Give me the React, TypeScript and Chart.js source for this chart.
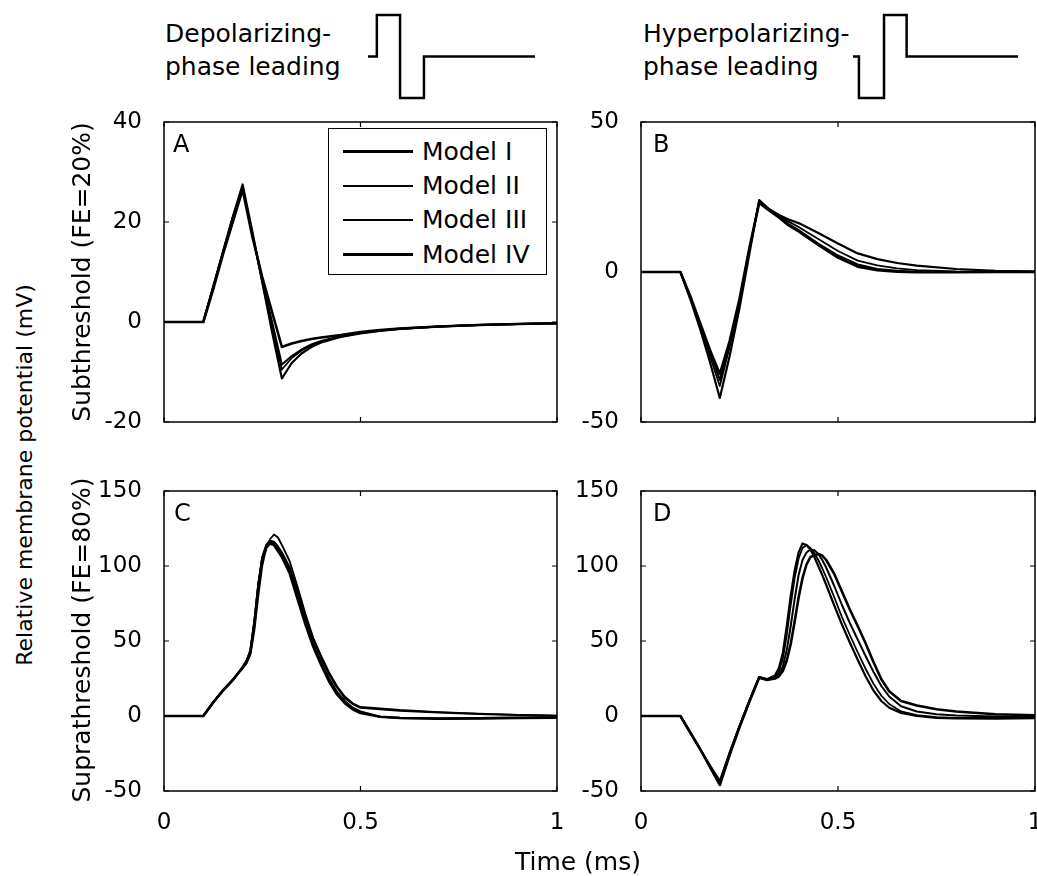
import React, { useEffect, useRef } from "react";
import { Chart, registerables } from "chart.js";

Chart.register(...registerables);

const FONT = "'DejaVu Sans', 'Liberation Sans', sans-serif";

const MODELS = ["Model I", "Model II", "Model III", "Model IV"];
const LINE_WIDTHS = [2.2, 1.8, 2, 2.6];

const X_TICKS = [0, 0.5, 1];
const Y_TICKS_A = [-20, 0, 20, 40];
const Y_TICKS_B = [-50, 0, 50];
const Y_TICKS_CD = [-50, 0, 50, 100, 150];

// Panel A: subthreshold, depolarizing-phase leading
const TIME_A = [0, 0.1, 0.125, 0.15, 0.175, 0.2, 0.225, 0.25, 0.275, 0.3, 0.325, 0.35, 0.375, 0.4, 0.45, 0.5, 0.55, 0.6, 0.7, 0.8, 0.9, 1.0];
const A_I = [0, 0, 7, 14, 21, 27.5, 18, 8, -2, -11.3, -8.2, -6.3, -5, -4.1, -3, -2.3, -1.8, -1.4, -0.9, -0.6, -0.4, -0.25];
const A_II = [0, 0, 7, 14, 20.5, 27, 17.5, 8, -1, -9.5, -7.2, -5.7, -4.7, -3.9, -2.9, -2.2, -1.7, -1.4, -0.9, -0.6, -0.4, -0.25];
const A_III = [0, 0, 7, 14, 21, 27, 17.5, 8.5, 0, -8.5, -6.8, -5.5, -4.5, -3.8, -2.8, -2.2, -1.7, -1.3, -0.9, -0.6, -0.4, -0.25];
const A_IV = [0, 0, 6.5, 13.5, 20, 26.5, 17, 9, 2, -5, -4.3, -3.8, -3.4, -3.1, -2.6, -2, -1.6, -1.3, -0.9, -0.6, -0.4, -0.25];

// Panel B: subthreshold, hyperpolarizing-phase leading
const TIME_B = [0, 0.1, 0.125, 0.15, 0.175, 0.2, 0.225, 0.25, 0.275, 0.3, 0.325, 0.35, 0.375, 0.4, 0.45, 0.5, 0.55, 0.6, 0.65, 0.7, 0.8, 0.9, 1.0];
const B_I = [0, 0, -9, -19, -30, -42, -28, -12, 6, 24, 21, 19, 17.5, 16.3, 13, 9.5, 6.2, 4.3, 3, 2.1, 1, 0.4, 0.2];
const B_II = [0, 0, -8.5, -18, -28, -38, -25, -10, 7, 23.5, 20.8, 18.7, 16.8, 15, 11, 7, 3.8, 2.2, 1.2, 0.6, 0.2, 0.1, 0];
const B_III = [0, 0, -8.5, -17.5, -27, -36, -24, -9.5, 7.5, 23.5, 20.8, 18.4, 16, 14, 9.5, 5.5, 2.5, 1, 0.4, 0.1, 0, 0, 0];
const B_IV = [0, 0, -8, -17, -26, -34, -23, -9, 8, 23, 20.5, 18.2, 15.5, 13.5, 9, 4.8, 1.8, 0.6, 0.1, -0.1, -0.1, 0, 0];

// Panel C: suprathreshold, depolarizing-phase leading
const TIME_C = [0, 0.1, 0.125, 0.15, 0.175, 0.19, 0.2, 0.21, 0.22, 0.23, 0.24, 0.25, 0.26, 0.27, 0.28, 0.29, 0.3, 0.32, 0.34, 0.36, 0.38, 0.4, 0.42, 0.44, 0.46, 0.48, 0.5, 0.55, 0.6, 0.7, 0.8, 0.9, 1.0];
const C_I = [0, 0, 9, 17, 24, 29, 32, 36, 43, 62, 87, 105, 113, 116, 115, 112, 108, 97, 80, 63, 48, 36, 25, 16, 10, 5.5, 3, -0.5, -1.2, -1.6, -1.4, -1.1, -0.9];
const C_II = [0, 0, 9, 17, 24, 29, 32, 35, 41, 57, 80, 100, 112, 118, 121, 119, 114, 103, 86, 68, 52, 40, 29, 20, 13, 8.5, 6, 5, 4, 2.6, 1.6, 0.8, 0.3];
const C_III = [0, 0, 9, 17, 24, 29, 33, 37, 44, 63, 88, 106, 114, 117, 116, 113, 109, 99, 83, 66, 51, 39, 28, 19, 12, 8, 5.5, 4.5, 3.5, 2.3, 1.4, 0.7, 0.2];
const C_IV = [0, 0, 9, 17, 24, 29, 32, 36, 43, 62, 86, 104, 112, 115, 114, 110, 106, 95, 78, 61, 46, 34, 23, 14.5, 8.5, 4.5, 2, -0.5, -1.3, -1.8, -1.6, -1.3, -1.1];

// Panel D: suprathreshold, hyperpolarizing-phase leading
const TIME_D = [0, 0.1, 0.125, 0.15, 0.175, 0.2, 0.225, 0.25, 0.275, 0.3, 0.32, 0.34, 0.35, 0.36, 0.37, 0.38, 0.39, 0.4, 0.41, 0.42, 0.43, 0.44, 0.45, 0.46, 0.47, 0.49, 0.51, 0.53, 0.55, 0.57, 0.59, 0.61, 0.63, 0.66, 0.7, 0.75, 0.8, 0.9, 1.0];
const D_I = [0, 0, -11, -22, -33, -44, -25, -7, 10, 26, 24.5, 27, 32, 42, 60, 80, 97, 109, 115, 114, 111, 106, 100, 94, 87.5, 74, 61, 49, 37.5, 26.5, 17, 10, 5.5, 2, 0, -1.2, -1.6, -1.8, -1.5];
const D_II = [0, 0, -11, -22, -33, -43, -24, -6.5, 10, 26, 24.5, 26.5, 30, 38, 54, 74, 92, 105, 112, 114, 112, 108.5, 104, 98.5, 92.5, 79.5, 66, 54, 42.5, 31.5, 21.5, 13.5, 8, 3, 0.5, -0.8, -1.2, -1.3, -1.2];
const D_III = [0, 0, -11, -22, -34, -45, -25, -7, 10, 26, 24.5, 25.5, 28, 33, 44, 60, 78, 94, 104, 109, 111, 110.5, 108, 104, 99, 87, 74, 62, 51, 40, 29.5, 20, 13, 6.5, 3, 1.2, 0.4, -0.3, -0.5];
const D_IV = [0, 0, -11, -22, -34, -46, -26, -7.5, 9.5, 25.5, 24, 25, 26.5, 30, 37, 48, 63, 79, 92, 101, 106, 107, 108, 107, 104, 95, 83, 71, 60, 48.5, 36, 24.5, 16.5, 10, 7, 4.5, 3, 1.2, 0.5];

// Stimulus waveform icons (normalized time, normalized amplitude)
const ICON_DEP_X = [0, 0.053, 0.053, 0.192, 0.192, 0.335, 0.335, 1];
const ICON_DEP_Y = [0, 0, 1, 1, -1, -1, 0, 0];
const ICON_HYP_X = [0, 0.036, 0.036, 0.188, 0.188, 0.325, 0.325, 1];
const ICON_HYP_Y = [0, 0, -1, -1, 1, 1, 0, 0];

const framePlugin = {
  id: "matlabFrame",
  afterDraw(chart: any) {
    const { ctx, chartArea: a, scales } = chart;
    ctx.save();
    ctx.strokeStyle = "#000";
    ctx.lineWidth = 1.5;
    ctx.strokeRect(a.left, a.top, a.right - a.left, a.bottom - a.top);
    ctx.lineWidth = 1.2;
    const L = 5;
    const xs = scales.x;
    const ys = scales.y;
    ctx.beginPath();
    xs.ticks.forEach((t: any) => {
      const px = xs.getPixelForValue(t.value);
      ctx.moveTo(px, a.bottom);
      ctx.lineTo(px, a.bottom - L);
      ctx.moveTo(px, a.top);
      ctx.lineTo(px, a.top + L);
    });
    ys.ticks.forEach((t: any) => {
      const py = ys.getPixelForValue(t.value);
      ctx.moveTo(a.left, py);
      ctx.lineTo(a.left + L, py);
      ctx.moveTo(a.right, py);
      ctx.lineTo(a.right - L, py);
    });
    ctx.stroke();
    ctx.restore();
  },
};

type PanelProps = {
  left: number;
  top: number;
  width: number;
  height: number;
  axisW: number;
  padTop: number;
  padRight: number;
  xAxisH: number;
  showX: boolean;
  time: number[];
  series: number[][];
  yTicks: number[];
};

function Panel(p: PanelProps) {
  const ref = useRef<HTMLCanvasElement>(null);
  useEffect(() => {
    const yMin = p.yTicks[0];
    const yMax = p.yTicks[p.yTicks.length - 1];
    const chart = new Chart(ref.current as HTMLCanvasElement, {
      type: "line",
      data: {
        datasets: p.series.map((vals, i) => ({
          label: MODELS[i],
          data: p.time.map((t, j) => ({ x: t, y: vals[j] })),
          borderColor: "#000",
          backgroundColor: "#000",
          borderWidth: LINE_WIDTHS[i],
          pointRadius: 0,
          fill: false,
          tension: 0,
          borderJoinStyle: "round",
        })),
      },
      options: {
        responsive: false,
        maintainAspectRatio: false,
        animation: false,
        layout: { padding: { top: p.padTop, right: p.padRight, left: 0, bottom: 0 } },
        plugins: { legend: { display: false }, tooltip: { enabled: false } },
        scales: {
          x: {
            type: "linear",
            min: 0,
            max: 1,
            afterFit: (s: any) => {
              s.height = p.xAxisH;
            },
            afterBuildTicks: (s: any) => {
              s.ticks = X_TICKS.map((v) => ({ value: v }));
            },
            grid: { display: false },
            border: { display: false },
            ticks: {
              display: p.showX,
              padding: 10,
              color: "#000",
              maxRotation: 0,
              autoSkip: false,
              font: { family: FONT, size: 23 },
              callback: (v: any) => String(v),
            },
          },
          y: {
            type: "linear",
            min: yMin,
            max: yMax,
            afterFit: (s: any) => {
              s.width = p.axisW;
            },
            afterBuildTicks: (s: any) => {
              s.ticks = p.yTicks.map((v) => ({ value: v }));
            },
            grid: { display: false },
            border: { display: false },
            ticks: {
              padding: 14,
              color: "#000",
              autoSkip: false,
              font: { family: FONT, size: 23 },
              callback: (v: any) => String(v),
            },
          },
        },
      } as any,
      plugins: [framePlugin],
    });
    return () => chart.destroy();
  }, []);
  return (
    <canvas
      ref={ref}
      width={p.width}
      height={p.height}
      style={{ position: "absolute", left: p.left, top: p.top, width: p.width, height: p.height }}
    />
  );
}

type IconProps = {
  left: number;
  top: number;
  width: number;
  height: number;
  pad: { left: number; right: number; top: number; bottom: number };
  xs: number[];
  ys: number[];
};

function PulseIcon(p: IconProps) {
  const ref = useRef<HTMLCanvasElement>(null);
  useEffect(() => {
    const chart = new Chart(ref.current as HTMLCanvasElement, {
      type: "line",
      data: {
        datasets: [
          {
            data: p.xs.map((x, i) => ({ x, y: p.ys[i] })),
            borderColor: "#000",
            borderWidth: 2.5,
            pointRadius: 0,
            tension: 0,
            fill: false,
            clip: false,
            borderJoinStyle: "miter",
          },
        ],
      },
      options: {
        responsive: false,
        maintainAspectRatio: false,
        animation: false,
        layout: { padding: p.pad },
        plugins: { legend: { display: false }, tooltip: { enabled: false } },
        scales: {
          x: { type: "linear", min: 0, max: 1, display: false },
          y: { type: "linear", min: -1, max: 1, display: false },
        },
      } as any,
    });
    return () => chart.destroy();
  }, []);
  return (
    <canvas
      ref={ref}
      width={p.width}
      height={p.height}
      style={{ position: "absolute", left: p.left, top: p.top, width: p.width, height: p.height }}
    />
  );
}

function RotLabel({ text, cx, cy, size }: { text: string; cx: number; cy: number; size: number }) {
  return (
    <div
      style={{
        position: "absolute",
        left: cx,
        top: cy,
        transform: "translate(-50%, -50%) rotate(-90deg)",
        whiteSpace: "nowrap",
        fontSize: size,
        lineHeight: `${size}px`,
      }}
    >
      {text}
    </div>
  );
}

function Letter({ text, left, top }: { text: string; left: number; top: number }) {
  return (
    <div style={{ position: "absolute", left, top, fontSize: 24, lineHeight: "24px" }}>{text}</div>
  );
}

function Legend() {
  const rowCenters = [24, 58.5, 92.5, 127];
  return (
    <div
      style={{
        position: "absolute",
        left: 328,
        top: 128,
        width: 219,
        height: 147,
        boxSizing: "border-box",
        border: "1.5px solid #000",
        background: "#fff",
      }}
    >
      {MODELS.map((m, i) => (
        <React.Fragment key={m}>
          <div
            style={{
              position: "absolute",
              left: 14,
              top: rowCenters[i] - LINE_WIDTHS[i] / 2 - 1.5,
              width: 70,
              height: LINE_WIDTHS[i],
              background: "#000",
            }}
          />
          <div
            style={{
              position: "absolute",
              left: 93,
              top: rowCenters[i] - 14 - 1.5,
              fontSize: 25,
              lineHeight: "28px",
              whiteSpace: "nowrap",
            }}
          >
            {m}
          </div>
        </React.Fragment>
      ))}
    </div>
  );
}

export default function App() {
  return (
    <div
      style={{
        position: "fixed",
        left: 0,
        top: 0,
        width: 1037,
        height: 876,
        overflow: "hidden",
        background: "#fff",
        color: "#000",
        fontFamily: FONT,
      }}
    >
      <div style={{ position: "absolute", left: 165, top: 17, fontSize: 25, lineHeight: "33px", whiteSpace: "nowrap" }}>
        Depolarizing-
        <br />
        phase leading
      </div>
      <div style={{ position: "absolute", left: 643, top: 17, fontSize: 25, lineHeight: "33px", whiteSpace: "nowrap" }}>
        Hyperpolarizing-
        <br />
        phase leading
      </div>
      <PulseIcon left={358} top={5} width={190} height={105} pad={{ left: 10, right: 13, top: 10, bottom: 12 }} xs={ICON_DEP_X} ys={ICON_DEP_Y} />
      <PulseIcon left={843} top={5} width={190} height={105} pad={{ left: 10, right: 15, top: 10, bottom: 12 }} xs={ICON_HYP_X} ys={ICON_HYP_Y} />

      <Panel left={84} top={92} width={498} height={360} axisW={80} padTop={30} padRight={25} xAxisH={30} showX={false} time={TIME_A} series={[A_I, A_II, A_III, A_IV]} yTicks={Y_TICKS_A} />
      <Panel left={576} top={92} width={484} height={360} axisW={65} padTop={30} padRight={25} xAxisH={30} showX={false} time={TIME_B} series={[B_I, B_II, B_III, B_IV]} yTicks={Y_TICKS_B} />
      <Panel left={84} top={461} width={498} height={389} axisW={80} padTop={30} padRight={25} xAxisH={59} showX={true} time={TIME_C} series={[C_I, C_II, C_III, C_IV]} yTicks={Y_TICKS_CD} />
      <Panel left={576} top={461} width={484} height={389} axisW={65} padTop={30} padRight={25} xAxisH={59} showX={true} time={TIME_D} series={[D_I, D_II, D_III, D_IV]} yTicks={Y_TICKS_CD} />

      <Legend />
      <Letter text="A" left={173} top={132} />
      <Letter text="B" left={653} top={132} />
      <Letter text="C" left={174} top={501} />
      <Letter text="D" left={653} top={501} />

      <RotLabel text="Relative membrane potential (mV)" cx={25} cy={475} size={22} />
      <RotLabel text="Subthreshold (FE=20%)" cx={81} cy={272} size={25} />
      <RotLabel text="Suprathreshold (FE=80%)" cx={81} cy={640} size={25} />
      <div
        style={{
          position: "absolute",
          left: 578,
          top: 861,
          transform: "translate(-50%, -50%)",
          whiteSpace: "nowrap",
          fontSize: 25,
          lineHeight: "25px",
        }}
      >
        Time (ms)
      </div>
    </div>
  );
}
